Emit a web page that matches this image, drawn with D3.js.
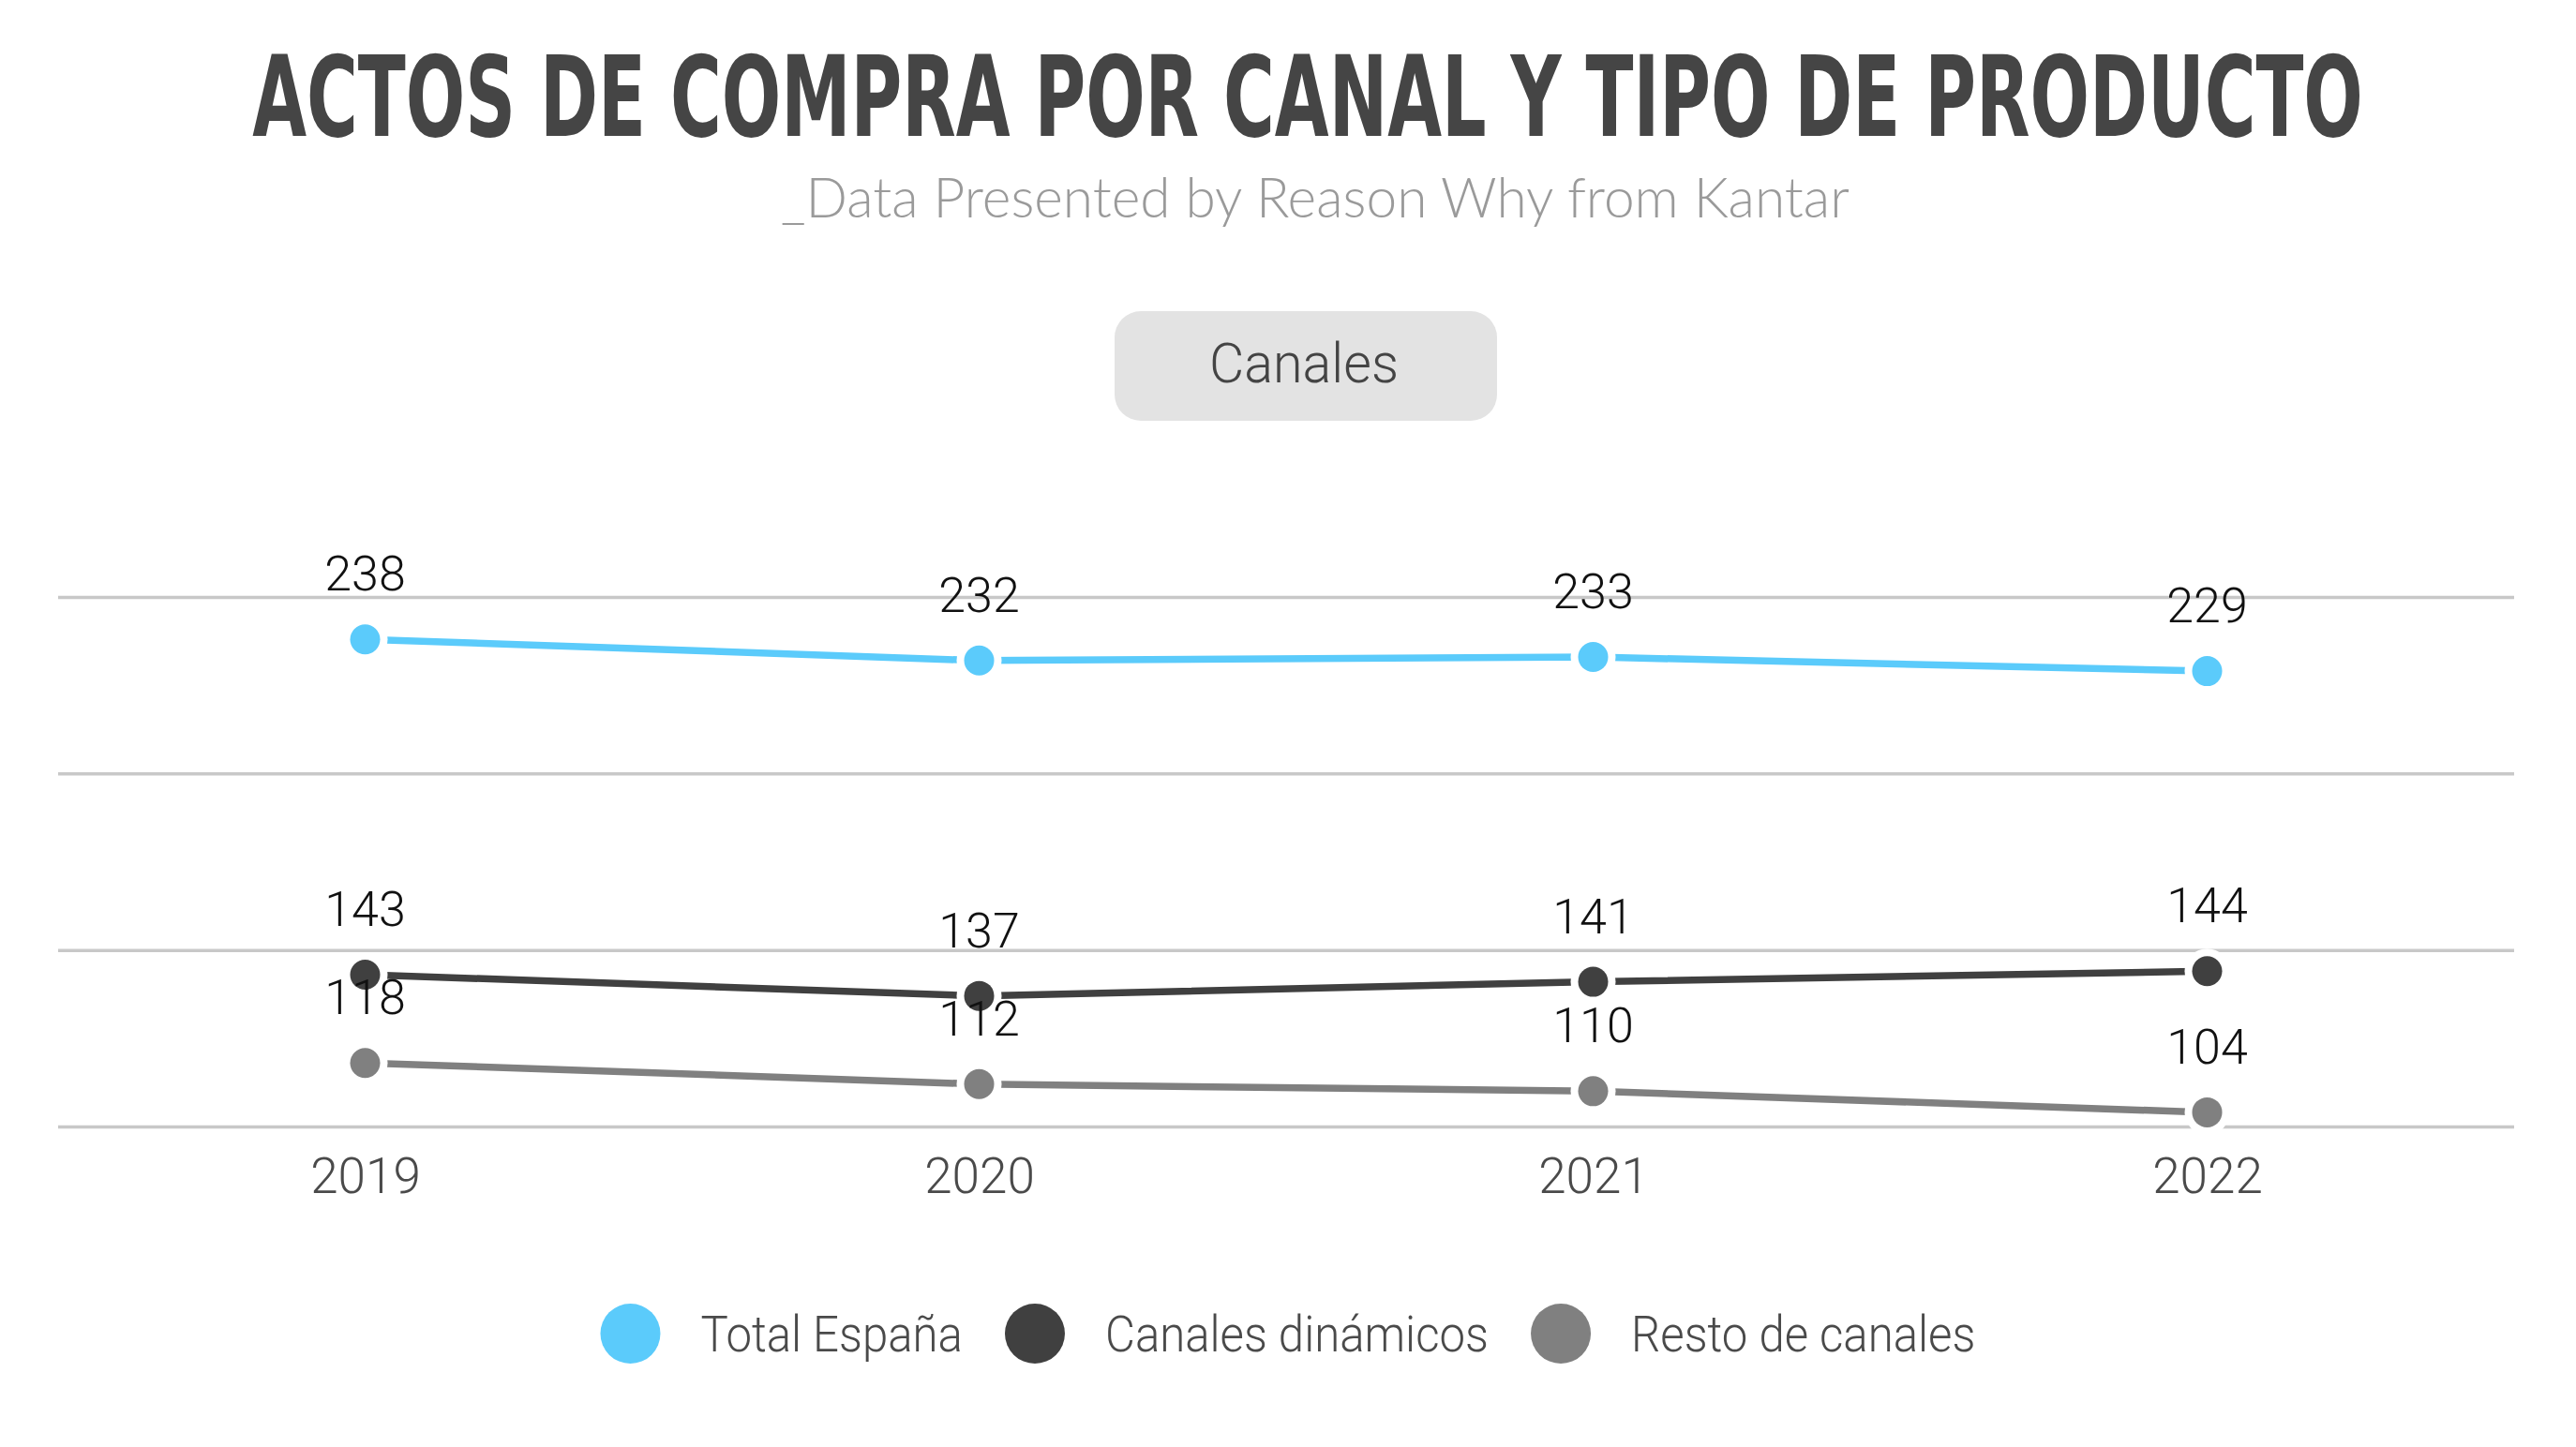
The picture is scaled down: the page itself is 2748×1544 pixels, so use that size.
<!DOCTYPE html>
<html>
<head>
<meta charset="utf-8">
<script src="https://cdn.jsdelivr.net/npm/d3@7"></script>
<style>
  html, body { margin: 0; padding: 0; background: #fff; }
  svg { display: block; }
</style>
</head>
<body>
<svg id="chart"></svg>
<script>
const titleText = "ACTOS DE COMPRA POR CANAL Y TIPO DE PRODUCTO";
const subtitleText = "_Data Presented by Reason Why from Kantar";
const buttonText = "Canales";

const years = ["2019", "2020", "2021", "2022"];
const seriesNames = ["Total España", "Canales dinámicos", "Resto de canales"];
const totalEspana = [238, 232, 233, 229];
const canalesDinamicos = [143, 137, 141, 144];
const restoCanales = [118, 112, 110, 104];
const gridTicks = [100, 150, 200, 250];
const seriesColors = ["#5bcbfb", "#404040", "#808080"];

const W = 2748, H = 1544;
const series = [totalEspana, canalesDinamicos, restoCanales].map((vals, i) => ({
  name: seriesNames[i], color: seriesColors[i],
  points: vals.map((v, j) => ({ year: years[j], value: v }))
}));

const svg = d3.select("#chart").attr("width", W).attr("height", H)
  .attr("viewBox", `0 0 ${W} ${H}`);
svg.append("rect").attr("width", W).attr("height", H).attr("fill", "#fff");

const bodyFont = "Roboto, 'Noto Sans', sans-serif";

// Horizontal squeeze helper: scale text about its anchor x to reach a target width
function squeezeTo(sel, cx, targetW) {
  const w = sel.node().getComputedTextLength();
  const s = targetW / w;
  sel.attr("transform", `translate(${cx},0) scale(${s},1) translate(${-cx},0)`);
}

// Title
const title = svg.append("text")
  .attr("x", 1395).attr("y", 145)
  .attr("text-anchor", "middle")
  .attr("font-family", "'Liberation Sans Narrow', 'DejaVu Sans Condensed', 'Liberation Sans', sans-serif")
  .attr("font-weight", "bold")
  .attr("font-size", 120)
  .attr("fill", "#454545")
  .text(titleText);
squeezeTo(title, 1395, 2252);

// Subtitle
const sub = svg.append("text")
  .attr("x", 1403).attr("y", 232)
  .attr("text-anchor", "middle")
  .attr("font-family", "Lato, " + bodyFont)
  .attr("font-weight", 300)
  .attr("font-size", 60)
  .attr("fill", "#9a9a9a")
  .text(subtitleText);
squeezeTo(sub, 1403, 1140);

// Button
svg.append("rect")
  .attr("x", 1189).attr("y", 332).attr("width", 408).attr("height", 117)
  .attr("rx", 28).attr("fill", "#e3e3e3");
const btn = svg.append("text")
  .attr("x", 1391).attr("y", 408)
  .attr("text-anchor", "middle")
  .attr("font-family", bodyFont)
  .attr("font-weight", 300)
  .attr("font-size", 60)
  .attr("fill", "#444")
  .text(buttonText);
squeezeTo(btn, 1391, 202);

// Scales
const x = d3.scalePoint().domain(years).range([62, 2682]).padding(0.5);
const y = d3.scaleLinear().domain([100, 250]).range([1202, 637]);

// Gridlines
const yAxis = d3.axisLeft(y).tickValues(gridTicks).tickSize(-(2682 - 62)).tickFormat("");
const gy = svg.append("g").attr("transform", "translate(62,0)").call(yAxis);
gy.select(".domain").remove();
gy.selectAll(".tick line").attr("stroke", "#c8c8c8").attr("stroke-width", 3.5);

// X axis labels
const xAxis = d3.axisBottom(x).tickSize(0).tickPadding(0);
const gx = svg.append("g").attr("transform", "translate(0,1273)").call(xAxis);
gx.select(".domain").remove();
gx.selectAll(".tick text")
  .attr("dy", 0)
  .attr("y", 0)
  .attr("font-family", bodyFont)
  .attr("font-weight", 300)
  .attr("font-size", 53)
  .attr("fill", "#4a4a4a");

// Lines
const line = d3.line().x(d => x(d.year)).y(d => y(d.value));
svg.append("g").selectAll("path").data(series).join("path")
  .attr("d", d => line(d.points))
  .attr("fill", "none")
  .attr("stroke", d => d.color)
  .attr("stroke-width", 7.5);

// Points
const pg = svg.append("g").selectAll("g").data(series).join("g");
pg.selectAll("circle.halo").data(d => d.points).join("circle")
  .attr("class", "halo")
  .attr("cx", d => x(d.year)).attr("cy", d => y(d.value))
  .attr("r", 24).attr("fill", "#fff");
pg.each(function(s) {
  d3.select(this).selectAll("circle.dot").data(s.points).join("circle")
    .attr("class", "dot")
    .attr("cx", d => x(d.year)).attr("cy", d => y(d.value))
    .attr("r", 16).attr("fill", s.color);
});

// Value labels
svg.append("g").selectAll("g").data(series).join("g")
  .selectAll("text").data(d => d.points).join("text")
  .attr("x", d => x(d.year)).attr("y", d => y(d.value) - 52)
  .attr("text-anchor", "middle")
  .attr("font-family", bodyFont)
  .attr("font-weight", 300)
  .attr("font-size", 52)
  .attr("fill", "#111")
  .text(d => d.value);

// Legend
const lg = svg.append("g");
const legendR = 32, gapText = 43, gapItem = 45, legendY = 1423, squeeze = 0.91;
const items = lg.selectAll("g").data(series).join("g");
items.append("circle").attr("r", legendR).attr("cy", 0).attr("fill", d => d.color);
items.append("text")
  .attr("x", legendR + gapText).attr("y", 19)
  .attr("font-family", bodyFont)
  .attr("font-weight", 300)
  .attr("font-size", 54)
  .attr("fill", "#4a4a4a")
  .text(d => d.name);
let cursor = 0;
const offsets = [];
items.each(function() {
  const t = d3.select(this).select("text");
  const tw = t.node().getComputedTextLength() * squeeze;
  const x0 = legendR + gapText;
  t.attr("transform", `translate(${x0},0) scale(${squeeze},1) translate(${-x0},0)`);
  offsets.push(cursor + legendR);
  cursor += 2 * legendR + gapText + tw + gapItem;
});
const total = cursor - gapItem;
const start = W / 2 - total / 2;
items.attr("transform", (d, i) => `translate(${start + offsets[i]},${legendY})`);
</script>
</body>
</html>
